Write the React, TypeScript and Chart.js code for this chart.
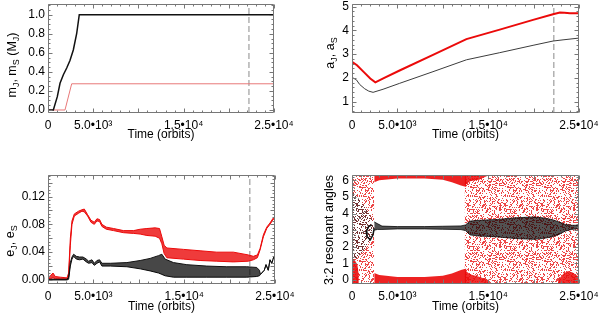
import React, { useEffect, useRef } from 'react';
import { Chart, registerables } from 'chart.js';

Chart.register(...registerables);

const FONT = '"Liberation Sans", Arial, Helvetica, sans-serif';
const FRAME_COLOR = '#777777';

// ---------- shared time axis ----------
const xTickValues = [0, 5000, 10000, 15000, 20000, 25000];
const xTickLabels = ['0', '5.0•10³', '', '1.5•10⁴', '', '2.5•10⁴'];
const dashTime = 22230;

// ---------- panel 1 : masses ----------
const mJTime = [0, 590, 1030, 1330, 1700, 2070, 2430, 2800, 3170, 3460, 25000];
const mJ = [0, 0, 0.14, 0.28, 0.37, 0.44, 0.52, 0.63, 0.8, 1.0, 1.0];
const mSTime = [0, 1880, 2620, 25000];
const mS = [0, 0, 0.275, 0.275];
const mTicks = [0, 0.2, 0.4, 0.6, 0.8, 1.0];

// ---------- panel 2 : semi-major axes ----------
const aJTime = [0, 480, 850, 1400, 1850, 2320, 3420, 5250, 8920, 12600, 16270, 19940, 22140, 23240, 24890, 25000];
const aJ = [2.02, 1.92, 1.72, 1.54, 1.44, 1.39, 1.52, 1.77, 2.26, 2.76, 3.06, 3.37, 3.55, 3.6, 3.67, 3.67];
const aSTime = [0, 550, 1280, 2010, 2570, 3500, 5240, 8920, 12600, 16270, 19940, 22140, 22900, 23400, 24000, 25000];
const aS = [2.68, 2.53, 2.25, 1.97, 1.81, 1.99, 2.31, 2.97, 3.63, 4.03, 4.44, 4.68, 4.75, 4.74, 4.72, 4.72];
const aTicks = [1, 2, 3, 4, 5];

// ---------- panel 3 : eccentricities (upper / lower envelope of the oscillation) ----------
const eSTime = [0, 260, 550, 800, 1360, 2090, 2270, 2460, 2640, 2900, 3370, 3740, 4000, 4360, 4730, 5100, 5390, 5680, 5940, 6420, 7220, 8320, 9420, 10150, 10890, 11800, 12280, 12540, 12790, 13090, 14920, 16750, 18590, 20420, 22070, 22620, 23060, 23350, 23720, 24090, 24450, 24750, 25000];
const eSHi = [0.004, 0.006, 0.01, 0.005, 0.004, 0.003, 0.01, 0.06, 0.085, 0.095, 0.099, 0.101, 0.102, 0.094, 0.086, 0.083, 0.088, 0.087, 0.08, 0.076, 0.074, 0.071, 0.071, 0.073, 0.074, 0.075, 0.074, 0.062, 0.05, 0.046, 0.044, 0.042, 0.04, 0.04, 0.036, 0.034, 0.036, 0.045, 0.065, 0.076, 0.082, 0.088, 0.092];
const eSLo = [0.002, 0.002, 0.003, 0.002, 0.001, 0.001, 0.005, 0.05, 0.08, 0.092, 0.096, 0.099, 0.098, 0.092, 0.083, 0.08, 0.085, 0.084, 0.077, 0.073, 0.071, 0.068, 0.067, 0.066, 0.064, 0.063, 0.06, 0.052, 0.038, 0.032, 0.03, 0.028, 0.027, 0.026, 0.027, 0.029, 0.032, 0.043, 0.062, 0.074, 0.08, 0.086, 0.09];
const eJTime = [0, 2090, 2270, 2460, 2640, 2820, 3120, 3480, 3850, 4220, 4470, 4840, 5100, 5390, 5680, 5940, 6860, 8690, 10150, 11250, 12170, 12540, 12900, 13820, 15290, 17490, 19690, 21890, 22990, 23280, 23400, 23820, 24010, 24260, 24450, 24640, 24890, 25000];
const eJHi = [0.001, 0.001, 0.004, 0.025, 0.033, 0.037, 0.034, 0.033, 0.033, 0.03, 0.027, 0.029, 0.024, 0.028, 0.029, 0.024, 0.024, 0.025, 0.028, 0.031, 0.035, 0.037, 0.03, 0.025, 0.022, 0.02, 0.019, 0.019, 0.018, 0.014, 0.008, 0.014, 0.022, 0.014, 0.029, 0.024, 0.034, 0.036];
const eJLo = [0, 0, 0.001, 0.02, 0.03, 0.034, 0.03, 0.029, 0.03, 0.026, 0.024, 0.025, 0.021, 0.024, 0.026, 0.02, 0.02, 0.019, 0.016, 0.013, 0.01, 0.008, 0.006, 0.004, 0.004, 0.004, 0.004, 0.004, 0.005, 0.006, 0.008, 0.014, 0.022, 0.014, 0.029, 0.024, 0.034, 0.036];
const eTicks = [0, 0.02, 0.04, 0.06, 0.08, 0.1, 0.12, 0.14];

// ---------- panel 4 : 3:2 resonant angles ----------
// black: early scattered cloud, small loop, librating band around pi
const bCloudTime = [0, 500, 1300, 2000, 2450];
const bCloudHi = [5.3, 5.1, 4.5, 3.9, 3.35];
const bCloudLo = [1.2, 1.3, 1.8, 2.4, 2.95];
const bLoopTime = [2196, 1830, 1574, 1647, 2013, 2306, 2452];
const bLoopAngle = [3.32, 3.22, 2.92, 2.62, 2.42, 2.72, 3.12];
const bBandTime = [2450, 2800, 3300, 5000, 8000, 10000, 12000, 12500, 13000, 14000, 16000, 18000, 20000, 21000, 22000, 22800, 23500, 24200, 25000];
const bBandHi = [3.5, 3.4, 3.25, 3.22, 3.22, 3.24, 3.26, 3.32, 3.55, 3.6, 3.65, 3.75, 3.8, 3.75, 3.65, 3.5, 3.35, 3.3, 3.3];
const bBandLo = [3.0, 3.05, 3.05, 3.08, 3.08, 3.06, 3.04, 2.98, 2.72, 2.65, 2.6, 2.5, 2.45, 2.5, 2.6, 2.75, 2.95, 3.05, 3.1];
// red: circulating (scattered) phases and solid bands near 0 and 2 pi
const rCircATime = [0, 2450];
const rCircCTime = [12400, 25000];
const rCircHi = [6.33, 6.33];
const rCircLo = [-0.24, -0.24];
const rLowATime = [0, 300, 600, 750];
const rLowAHi = [1.1, 1.2, 0.9, 0.3];
const rLowALo = [-0.24, -0.24, -0.24, -0.24];
const rEdgeBTime = [2450, 3000, 5000, 8000, 10000, 11000, 12000, 12600];
const rTopBLo = [5.9, 6.02, 6.12, 6.12, 6.05, 5.9, 5.7, 5.6];
const rTopBHi = [6.33, 6.33, 6.33, 6.33, 6.33, 6.33, 6.33, 6.33];
const rBotBHi = [0.42, 0.3, 0.18, 0.18, 0.25, 0.4, 0.6, 0.7];
const rBotBLo = [-0.24, -0.24, -0.24, -0.24, -0.24, -0.24, -0.24, -0.24];
const rEdgeCTime = [12400, 13000, 14000, 15000];
const rTopCLo = [5.7, 5.95, 6.05, 6.3];
const rTopCHi = [6.33, 6.33, 6.33, 6.33];
const rBotCHi = [0.6, 0.35, 0.2, 0.0];
const rBotCLo = [-0.24, -0.24, -0.24, -0.24];
const rEndTime = [22700, 23300, 23800, 24300, 24700, 25000];
const rEndHi = [0.0, 0.4, 0.55, 0.45, 0.3, 0.2];
const rEndLo = [-0.24, -0.24, -0.24, -0.24, -0.24, -0.24];
const phTicks = [0, 1, 2, 3, 4, 5, 6];

const W = 300;
const H = 159;

type TitlePart = [string, boolean];
type Spec = {
  area: { left: number; top: number; right: number; bottom: number };
  yMin: number;
  yMax: number;
  yTicks: number[];
  yMinor: number;
  yFmt: (v: number) => string;
  datasets: any[];
  title: TitlePart[];
  titleX: number;
  titleY: number;
  xTitlePad: number;
};

const pts = (xs: number[], ys: number[]) => xs.map((x, i) => ({ x, y: ys[i] }));

const line = (xs: number[], ys: number[], color: string, width: number, extra: any = {}) => ({
  data: pts(xs, ys),
  borderColor: color,
  borderWidth: width,
  pointRadius: 0,
  tension: 0,
  fill: false,
  ...extra,
});

const band = (xs: number[], hi: number[], lo: number[], stroke: string, width: number, fillColor: any) => [
  line(xs, hi, stroke, width, { fill: '+1', backgroundColor: fillColor }),
  line(xs, lo, stroke, width),
];

const dashed = (yMin: number, yMax: number) =>
  line([dashTime, dashTime], [yMin, yMax], '#8a8a8a', 1, { borderDash: [6, 3] });

// stipple texture (style only) used to render scattered-dot regions
function speckle(color: string, threshold: number) {
  const size = 37;
  const c = document.createElement('canvas');
  c.width = size;
  c.height = size;
  const g = c.getContext('2d')!;
  g.fillStyle = color;
  for (let i = 0; i < size; i++) {
    for (let j = 0; j < size; j++) {
      let h = (i * 374761393 + j * 668265263) | 0;
      h = Math.imul(h ^ (h >>> 13), 1274126177);
      h ^= h >>> 16;
      if ((h >>> 0) % 100 < threshold) g.fillRect(i, j, 1, 1);
    }
  }
  return g.createPattern(c, 'repeat');
}

function range(a: number, b: number, step: number) {
  const out: number[] = [];
  const n = Math.round((b - a) / step);
  for (let k = 0; k <= n; k++) out.push(a + k * step);
  return out;
}

function buildChart(canvas: HTMLCanvasElement, spec: Spec) {
  const { area } = spec;
  const framePlugin = {
    id: 'frame',
    afterDatasetsDraw(chart: any) {
      const { ctx, chartArea: a, scales } = chart;
      const xs = scales.x;
      const ys = scales.y;
      const L = a.left + 0.5;
      const R = a.right - 0.5;
      const T = a.top + 0.5;
      const B = a.bottom - 0.5;
      ctx.save();
      ctx.strokeStyle = FRAME_COLOR;
      ctx.lineWidth = 1;
      ctx.setLineDash([]);
      ctx.beginPath();
      ctx.rect(L, T, R - L, B - T);
      const xMinor = range(0, 25000, 1000);
      for (const v of xMinor) {
        const major = v % 5000 === 0;
        const len = major ? 4 : 2;
        const px = Math.round(xs.getPixelForValue(v)) + 0.5;
        ctx.moveTo(px, B);
        ctx.lineTo(px, B - len);
        ctx.moveTo(px, T);
        ctx.lineTo(px, T + len);
      }
      const first = Math.ceil(spec.yMin / spec.yMinor - 1e-6) * spec.yMinor;
      const yMinor = range(first, spec.yMax, spec.yMinor).filter((v) => v <= spec.yMax);
      for (const v of yMinor) {
        const major = spec.yTicks.some((t) => Math.abs(t - v) < spec.yMinor / 10);
        const len = major ? 4 : 2;
        const py = Math.round(ys.getPixelForValue(v)) + 0.5;
        ctx.moveTo(L, py);
        ctx.lineTo(L + len, py);
        ctx.moveTo(R, py);
        ctx.lineTo(R - len, py);
      }
      ctx.stroke();
      ctx.restore();
    },
    afterDraw(chart: any) {
      const { ctx } = chart;
      const mainFont = `12.5px ${FONT}`;
      const subFont = `9px ${FONT}`;
      ctx.save();
      let total = 0;
      const widths = spec.title.map(([t, sub]) => {
        ctx.font = sub ? subFont : mainFont;
        const w = ctx.measureText(t).width;
        total += w;
        return w;
      });
      ctx.translate(spec.titleX, spec.titleY);
      ctx.rotate(-Math.PI / 2);
      ctx.fillStyle = '#000';
      ctx.textAlign = 'left';
      ctx.textBaseline = 'middle';
      let x = -total / 2;
      spec.title.forEach(([t, sub], i) => {
        ctx.font = sub ? subFont : mainFont;
        ctx.fillText(t, x, sub ? 3.5 : 0);
        x += widths[i];
      });
      ctx.restore();
    },
  };

  return new Chart(canvas, {
    type: 'line',
    data: { datasets: spec.datasets },
    options: {
      responsive: false,
      animation: false,
      devicePixelRatio: 1,
      events: [],
      layout: { padding: { left: 0, top: area.top, right: W - area.right, bottom: 0 } },
      plugins: { legend: { display: false }, tooltip: { enabled: false }, title: { display: false } },
      scales: {
        x: {
          type: 'linear',
          min: 0,
          max: 25000,
          grid: { display: false, drawTicks: false },
          border: { display: false },
          ticks: {
            autoSkip: false,
            maxRotation: 0,
            padding: 5,
            color: '#000',
            font: { family: FONT, size: 12 },
            callback: (v: any) => {
              const i = xTickValues.indexOf(Number(v));
              return i >= 0 ? xTickLabels[i] : '';
            },
          },
          afterBuildTicks: (s: any) => {
            s.ticks = xTickValues.map((v) => ({ value: v }));
          },
          afterFit: (s: any) => {
            s.height = H - area.bottom;
            s.paddingLeft = 0;
            s.paddingRight = 0;
          },
          title: {
            display: true,
            text: 'Time (orbits)',
            color: '#000',
            font: { family: FONT, size: 12 },
            padding: { top: 0, bottom: spec.xTitlePad },
          },
        },
        y: {
          type: 'linear',
          min: spec.yMin,
          max: spec.yMax,
          grid: { display: false, drawTicks: false },
          border: { display: false },
          ticks: {
            padding: 3,
            color: '#000',
            font: { family: FONT, size: 12 },
            callback: (v: any) => spec.yFmt(Number(v)),
          },
          afterBuildTicks: (s: any) => {
            s.ticks = spec.yTicks.map((v) => ({ value: v }));
          },
          afterFit: (s: any) => {
            s.width = area.left;
            s.paddingTop = 0;
            s.paddingBottom = 0;
          },
        },
      },
    } as any,
    plugins: [framePlugin],
  });
}

function makeSpecs(): Spec[] {
  const RED = 'rgb(235,10,10)';
  const redSpeckle = speckle('rgba(232,25,25,0.8)', 30);
  const darkSpeckle = speckle('rgba(40,40,40,0.6)', 32);

  const p1: Spec = {
    area: { left: 48, top: 4, right: 274, bottom: 113 },
    yMin: -0.0315,
    yMax: 1.112,
    yTicks: mTicks,
    yMinor: 0.05,
    yFmt: (v) => v.toFixed(1),
    datasets: [
      line(mJTime, mJ, '#111', 1.5),
      line(mSTime, mS, 'rgb(232,120,120)', 1),
      dashed(-0.0315, 1.112),
    ],
    title: [['m', false], ['J', true], [', m', false], ['S', true], [' (M', false], ['J', true], [')', false]],
    titleX: 13,
    titleY: 65,
    xTitlePad: 16.8,
  };

  const p2: Spec = {
    area: { left: 52, top: 4, right: 279, bottom: 113 },
    yMin: 0.52,
    yMax: 5.11,
    yTicks: aTicks,
    yMinor: 0.2,
    yFmt: (v) => String(Math.round(v)),
    datasets: [
      line(aSTime, aS, RED, 2),
      line(aJTime, aJ, 'rgb(60,60,60)', 1),
      dashed(0.52, 5.11),
    ],
    title: [['a', false], ['J', true], [', a', false], ['S', true]],
    titleX: 31,
    titleY: 53,
    xTitlePad: 16.8,
  };

  const p3: Spec = {
    area: { left: 48, top: 16, right: 275, bottom: 125 },
    yMin: -0.0058,
    yMax: 0.151,
    yTicks: eTicks,
    yMinor: 0.005,
    yFmt: (v) => v.toFixed(2),
    datasets: [
      ...band(eJTime, eJHi, eJLo, '#111', 1, 'rgba(0,0,0,0.72)'),
      ...band(eSTime, eSHi, eSLo, RED, 1, 'rgba(235,10,10,0.8)'),
      dashed(-0.0058, 0.151),
    ],
    title: [['e', false], ['J', true], [', e', false], ['S', true]],
    titleX: 11,
    titleY: 82,
    xTitlePad: 4.1,
  };

  const NONE = 'rgba(0,0,0,0)';
  const p4: Spec = {
    area: { left: 52, top: 16, right: 279, bottom: 125 },
    yMin: -0.24,
    yMax: 6.33,
    yTicks: phTicks,
    yMinor: 0.2,
    yFmt: (v) => String(Math.round(v)),
    datasets: [
      line(bLoopTime, bLoopAngle, '#111', 1.5),
      ...band(bBandTime, bBandHi, bBandLo, 'rgba(0,0,0,0.75)', 1, 'rgba(0,0,0,0.68)'),
      ...band(bCloudTime, bCloudHi, bCloudLo, NONE, 0, darkSpeckle),
      ...band(rLowATime, rLowAHi, rLowALo, NONE, 0, 'rgba(235,10,10,0.9)'),
      ...band(rEdgeBTime, rTopBHi, rTopBLo, NONE, 0, 'rgba(235,10,10,0.9)'),
      ...band(rEdgeBTime, rBotBHi, rBotBLo, NONE, 0, 'rgba(235,10,10,0.9)'),
      ...band(rEdgeCTime, rTopCHi, rTopCLo, NONE, 0, 'rgba(235,10,10,0.85)'),
      ...band(rEdgeCTime, rBotCHi, rBotCLo, NONE, 0, 'rgba(235,10,10,0.85)'),
      ...band(rEndTime, rEndHi, rEndLo, NONE, 0, 'rgba(235,10,10,0.85)'),
      ...band(rCircATime, rCircHi, rCircLo, NONE, 0, redSpeckle),
      ...band(rCircCTime, rCircHi, rCircLo, NONE, 0, redSpeckle),
    ],
    title: [['3:2 resonant angles', false]],
    titleX: 30,
    titleY: 71,
    xTitlePad: 4.1,
  };

  return [p1, p2, p3, p4];
}

const positions: [number, number][] = [
  [0, 0],
  [300, 0],
  [0, 159],
  [300, 159],
];

export default function App() {
  const r0 = useRef<HTMLCanvasElement>(null);
  const r1 = useRef<HTMLCanvasElement>(null);
  const r2 = useRef<HTMLCanvasElement>(null);
  const r3 = useRef<HTMLCanvasElement>(null);
  const refs = [r0, r1, r2, r3];

  useEffect(() => {
    const specs = makeSpecs();
    const charts = specs.map((s, i) => buildChart(refs[i].current!, s));
    return () => charts.forEach((c) => c.destroy());
  }, []);

  return (
    <div style={{ position: 'absolute', left: 0, top: 0, width: 600, height: 318, background: '#fff' }}>
      {positions.map((p, i) => (
        <canvas
          key={i}
          ref={refs[i]}
          width={W}
          height={H}
          style={{ position: 'absolute', left: p[0], top: p[1], width: W, height: H }}
        />
      ))}
    </div>
  );
}
